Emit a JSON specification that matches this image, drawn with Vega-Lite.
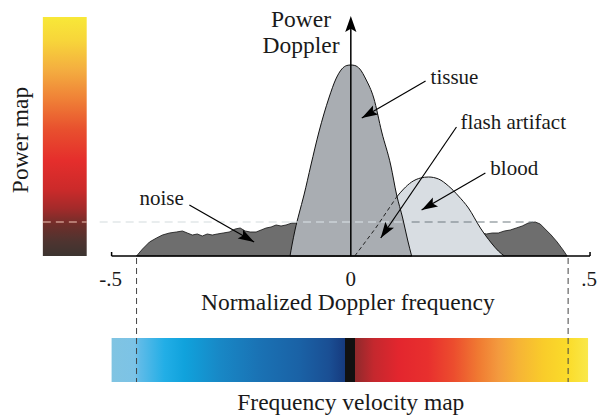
{
  "$schema": "https://vega.github.io/schema/vega-lite/v6.json",
  "width": 597,
  "height": 418,
  "autosize": {"type": "fit", "contains": "padding"},
  "padding": 0,
  "background": "white",
  "config": {"view": {"stroke": null}},
  "datasets": {
    "bars": [
      {"name": "power", "x": -0.7136, "x2": -0.612, "y": 1.2513, "y2": 0},
      {"name": "freq", "x": -0.5543, "x2": 0.5497, "y": -0.4293, "y2": -0.6597}
    ],
    "guides": [
      {"x": -0.4965, "y": -0.0105, "y2": -0.6597},
      {"x": 0.5035, "y": -0.0105, "y2": -0.6597}
    ],
    "hline": [
      {"seg": "bar", "x": -0.7136, "x2": -0.612, "y": 0.178},
      {"seg": "pale", "x": -0.582, "x2": -0.1409, "y": 0.178},
      {"seg": "tissue", "x": -0.1409, "x2": 0.1409, "y": 0.178},
      {"seg": "dark", "x": 0.1409, "x2": 0.4226, "y": 0.178}
    ],
    "noise": [
      {"x": -0.4965, "y": 0}, {"x": -0.4827, "y": 0.0366}, {"x": -0.4665, "y": 0.0733},
      {"x": -0.4503, "y": 0.0942}, {"x": -0.4365, "y": 0.1099}, {"x": -0.4203, "y": 0.1204},
      {"x": -0.4042, "y": 0.1257}, {"x": -0.3903, "y": 0.1309}, {"x": -0.3788, "y": 0.1204},
      {"x": -0.3672, "y": 0.1099}, {"x": -0.3557, "y": 0.1152}, {"x": -0.3441, "y": 0.1047},
      {"x": -0.3326, "y": 0.1152}, {"x": -0.321, "y": 0.1099}, {"x": -0.3095, "y": 0.1152},
      {"x": -0.2956, "y": 0.1204}, {"x": -0.2818, "y": 0.1257}, {"x": -0.2679, "y": 0.1414},
      {"x": -0.2564, "y": 0.1466}, {"x": -0.2448, "y": 0.1309}, {"x": -0.2333, "y": 0.1257},
      {"x": -0.2194, "y": 0.1257}, {"x": -0.2079, "y": 0.1361}, {"x": -0.1963, "y": 0.1466},
      {"x": -0.1848, "y": 0.1518}, {"x": -0.1732, "y": 0.1623}, {"x": -0.1617, "y": 0.1571},
      {"x": -0.1501, "y": 0.1623}, {"x": -0.1363, "y": 0.1728}, {"x": -0.1201, "y": 0.1728},
      {"x": 0.2956, "y": 0.1257}, {"x": 0.3141, "y": 0.1152}, {"x": 0.3279, "y": 0.1204},
      {"x": 0.3418, "y": 0.1204}, {"x": 0.3557, "y": 0.1309}, {"x": 0.3695, "y": 0.1361},
      {"x": 0.3834, "y": 0.1466}, {"x": 0.3972, "y": 0.1571}, {"x": 0.4111, "y": 0.1728},
      {"x": 0.4273, "y": 0.178}, {"x": 0.4388, "y": 0.1675}, {"x": 0.4503, "y": 0.1414},
      {"x": 0.4642, "y": 0.1099}, {"x": 0.4781, "y": 0.0733}, {"x": 0.4919, "y": 0.0314},
      {"x": 0.5012, "y": 0}
    ],
    "tissue": [
      {"x": -0.1409, "y": 0}, {"x": -0.1363, "y": 0.0576}, {"x": -0.1293, "y": 0.1361},
      {"x": -0.1201, "y": 0.2199}, {"x": -0.1085, "y": 0.3194}, {"x": -0.0924, "y": 0.4764},
      {"x": -0.0739, "y": 0.6492}, {"x": -0.0508, "y": 0.8272}, {"x": -0.0346, "y": 0.9267},
      {"x": -0.0208, "y": 0.9791}, {"x": -0.0092, "y": 0.9974}, {"x": 0, "y": 1.0},
      {"x": 0.0092, "y": 0.9974}, {"x": 0.0208, "y": 0.9791},
      {"x": 0.0346, "y": 0.9267}, {"x": 0.0531, "y": 0.8272}, {"x": 0.0716, "y": 0.6492},
      {"x": 0.0924, "y": 0.4764}, {"x": 0.1062, "y": 0.3194}, {"x": 0.1201, "y": 0.199},
      {"x": 0.1316, "y": 0.0838}, {"x": 0.1409, "y": 0}
    ],
    "blood": [
      {"part": "dashed", "x": 0.0092, "y": 0}, {"part": "dashed", "x": 0.0577, "y": 0.1466},
      {"part": "dashed", "x": 0.1062, "y": 0.3089},
      {"part": "solid", "x": 0.1062, "y": 0.3089}, {"part": "solid", "x": 0.1224, "y": 0.3508},
      {"part": "solid", "x": 0.1409, "y": 0.3874}, {"part": "solid", "x": 0.1617, "y": 0.4084},
      {"part": "solid", "x": 0.1801, "y": 0.4136}, {"part": "solid", "x": 0.2032, "y": 0.4031},
      {"part": "solid", "x": 0.2263, "y": 0.3665}, {"part": "solid", "x": 0.2494, "y": 0.3141},
      {"part": "solid", "x": 0.2725, "y": 0.2513}, {"part": "solid", "x": 0.3002, "y": 0.1466},
      {"part": "solid", "x": 0.3256, "y": 0.0681}, {"part": "solid", "x": 0.3418, "y": 0.0262},
      {"part": "solid", "x": 0.3557, "y": 0}
    ],
    "axes": [
      {"x": -0.5543, "y": 0, "x2": 0.5543, "y2": 0},
      {"x": 0, "y": 0, "x2": 0, "y2": 1.2251},
      {"x": -0.5543, "y": 0, "x2": -0.5543, "y2": 0.021},
      {"x": 0.5543, "y": 0, "x2": 0.5543, "y2": 0.021}
    ],
    "arrows": [
      {"name": "noise", "x": -0.3741, "y": 0.267, "x2": -0.224, "y2": 0.0733},
      {"name": "tissue", "x": 0.1732, "y": 0.9162, "x2": 0.0254, "y2": 0.7225},
      {"name": "flash", "x": 0.2448, "y": 0.6754, "x2": 0.0693, "y2": 0.0942},
      {"name": "blood", "x": 0.3118, "y": 0.4346, "x2": 0.164, "y2": 0.2408}
    ],
    "heads": [
      {"name": "noise", "x": -0.224, "y": 0.0733},
      {"name": "tissue", "x": 0.0254, "y": 0.7225},
      {"name": "flash", "x": 0.0693, "y": 0.0942},
      {"name": "blood", "x": 0.164, "y": 0.2408},
      {"name": "axis", "x": 0, "y": 1.2565}
    ],
    "labels": [
      {"text": "tissue", "x": 0.1848, "y": 0.9005},
      {"text": "flash artifact", "x": 0.254, "y": 0.6649},
      {"text": "blood", "x": 0.3233, "y": 0.4241},
      {"text": "noise", "x": -0.4896, "y": 0.267}
    ],
    "ticks": [
      {"text": "-.5", "x": -0.5566, "y": -0.157},
      {"text": "0", "x": 0, "y": -0.157},
      {"text": ".5", "x": 0.552, "y": -0.157}
    ],
    "titles": [
      {"text": "Power", "x": -0.1155, "y": 1.199},
      {"text": "Doppler", "x": -0.1155, "y": 1.0628},
      {"text": "Normalized Doppler frequency", "x": -0.0069, "y": -0.2827},
      {"text": "Frequency velocity map", "x": 0, "y": -0.8063}
    ],
    "rotated": [
      {"text": "Power map", "x": -0.7483, "y": 0.6073}
    ]
  },
  "encoding": {
    "x": {"field": "x", "type": "quantitative", "scale": {"domain": [-0.8129, 0.5658], "nice": false, "zero": false}, "axis": null},
    "y": {"field": "y", "type": "quantitative", "scale": {"domain": [-0.8482, 1.3403], "nice": false, "zero": false}, "axis": null}
  },
  "layer": [
    {
      "data": {"name": "bars"},
      "transform": [{"filter": "datum.name === 'power'"}],
      "mark": {"type": "rect", "fill": {"gradient": "linear", "x1": 0, "y1": 0, "x2": 0, "y2": 1, "stops": [
        {"offset": 0, "color": "#f8e838"}, {"offset": 0.1, "color": "#f7d53a"}, {"offset": 0.22, "color": "#f4ae40"},
        {"offset": 0.35, "color": "#ef7e36"}, {"offset": 0.47, "color": "#e8502e"}, {"offset": 0.6, "color": "#e52e2c"},
        {"offset": 0.72, "color": "#cc2a2a"}, {"offset": 0.8, "color": "#a42a2a"}, {"offset": 0.87, "color": "#6e2e2a"},
        {"offset": 0.94, "color": "#4e3430"}, {"offset": 1, "color": "#3c3430"}]}},
      "encoding": {"x2": {"field": "x2"}, "y2": {"field": "y2"}}
    },
    {
      "data": {"name": "bars"},
      "transform": [{"filter": "datum.name === 'freq'"}],
      "mark": {"type": "rect", "fill": {"gradient": "linear", "x1": 0, "y1": 0, "x2": 1, "y2": 0, "stops": [
        {"offset": 0, "color": "#80c4e2"}, {"offset": 0.048, "color": "#7cc3e6"}, {"offset": 0.059, "color": "#5fbbe8"},
        {"offset": 0.111, "color": "#22aee6"}, {"offset": 0.153, "color": "#10a2dc"}, {"offset": 0.226, "color": "#1888c6"},
        {"offset": 0.31, "color": "#1a72b4"}, {"offset": 0.393, "color": "#1a62a6"}, {"offset": 0.456, "color": "#1a4f94"},
        {"offset": 0.49, "color": "#163a7e"}, {"offset": 0.49, "color": "#111111"}, {"offset": 0.51, "color": "#111111"},
        {"offset": 0.51, "color": "#8e2a2c"}, {"offset": 0.55, "color": "#c4282e"}, {"offset": 0.603, "color": "#e3262e"},
        {"offset": 0.665, "color": "#e8302e"}, {"offset": 0.718, "color": "#ec4d2e"}, {"offset": 0.77, "color": "#f07a32"},
        {"offset": 0.812, "color": "#f39a3e"}, {"offset": 0.854, "color": "#f6b436"}, {"offset": 0.906, "color": "#f9cc2a"},
        {"offset": 0.958, "color": "#fbdc2a"}, {"offset": 1, "color": "#f9e84a"}]}},
      "encoding": {"x2": {"field": "x2"}, "y2": {"field": "y2"}}
    },
    {
      "data": {"name": "guides"},
      "mark": {"type": "rule", "color": "#444444", "strokeWidth": 1, "strokeDash": [6, 4]},
      "encoding": {"y2": {"field": "y2"}}
    },
    {
      "data": {"name": "noise"},
      "mark": {"type": "area", "color": "#6e6e6e", "stroke": "#111111", "strokeWidth": 0.8},
      "encoding": {"y2": {"datum": 0}}
    },
    {
      "data": {"name": "blood"},
      "mark": {"type": "area", "color": "#d8dde2", "interpolate": "monotone"},
      "encoding": {"y2": {"datum": 0}}
    },
    {
      "data": {"name": "tissue"},
      "mark": {"type": "area", "color": "#a9adb2", "stroke": "#111111", "strokeWidth": 1, "interpolate": "monotone"},
      "encoding": {"y2": {"datum": 0}}
    },
    {
      "data": {"name": "blood"},
      "transform": [{"filter": "datum.part === 'dashed'"}],
      "mark": {"type": "line", "color": "#222222", "strokeWidth": 1, "strokeDash": [4, 3]},
      "encoding": {}
    },
    {
      "data": {"name": "blood"},
      "transform": [{"filter": "datum.part === 'solid'"}],
      "mark": {"type": "line", "color": "#111111", "strokeWidth": 1, "interpolate": "monotone"},
      "encoding": {}
    },
    {
      "data": {"name": "hline"},
      "mark": {"type": "rule", "strokeWidth": 1.2, "strokeDash": [8, 5]},
      "encoding": {
        "x2": {"field": "x2"},
        "color": {"field": "seg", "type": "nominal", "legend": null,
          "scale": {"domain": ["bar", "pale", "tissue", "dark"], "range": ["#f4c8b8", "#d4dbde", "#dde5ea", "#6f7a80"]}}
      }
    },
    {
      "data": {"name": "axes"},
      "mark": {"type": "rule", "color": "#000000", "strokeWidth": 1.5},
      "encoding": {"x2": {"field": "x2"}, "y2": {"field": "y2"}}
    },
    {
      "data": {"name": "arrows"},
      "mark": {"type": "rule", "color": "#000000", "strokeWidth": 1.2},
      "encoding": {"x2": {"field": "x2"}, "y2": {"field": "y2"}}
    },
    {
      "data": {"name": "heads"},
      "transform": [{"filter": "datum.name === 'noise'"}],
      "mark": {"type": "point", "shape": "M0,0L-2,-0.65L-1.6,0L-2,0.65Z", "filled": true, "color": "#000000", "opacity": 1, "size": 256, "angle": 30, "strokeWidth": 0}
    },
    {
      "data": {"name": "heads"},
      "transform": [{"filter": "datum.name === 'tissue' || datum.name === 'blood'"}],
      "mark": {"type": "point", "shape": "M0,0L-2,-0.65L-1.6,0L-2,0.65Z", "filled": true, "color": "#000000", "opacity": 1, "size": 256, "angle": 150, "strokeWidth": 0}
    },
    {
      "data": {"name": "heads"},
      "transform": [{"filter": "datum.name === 'flash'"}],
      "mark": {"type": "point", "shape": "M0,0L-2,-0.65L-1.6,0L-2,0.65Z", "filled": true, "color": "#000000", "opacity": 1, "size": 256, "angle": 124, "strokeWidth": 0}
    },
    {
      "data": {"name": "heads"},
      "transform": [{"filter": "datum.name === 'axis'"}],
      "mark": {"type": "point", "shape": "M0,0L-2,-0.7L-1.6,0L-2,0.7Z", "filled": true, "color": "#000000", "opacity": 1, "size": 256, "angle": 270, "strokeWidth": 0}
    },
    {
      "data": {"name": "labels"},
      "mark": {"type": "text", "align": "left", "baseline": "alphabetic", "font": "Liberation Serif", "fontSize": 21, "color": "#1a1a1a"},
      "encoding": {"text": {"field": "text"}}
    },
    {
      "data": {"name": "ticks"},
      "mark": {"type": "text", "align": "center", "baseline": "alphabetic", "font": "Liberation Serif", "fontSize": 21, "color": "#1a1a1a"},
      "encoding": {"text": {"field": "text"}}
    },
    {
      "data": {"name": "titles"},
      "mark": {"type": "text", "align": "center", "baseline": "alphabetic", "font": "Liberation Serif", "fontSize": 23.5, "color": "#1a1a1a"},
      "encoding": {"text": {"field": "text"}}
    },
    {
      "data": {"name": "rotated"},
      "mark": {"type": "text", "align": "center", "baseline": "alphabetic", "angle": 270, "font": "Liberation Serif", "fontSize": 23.5, "color": "#1a1a1a"},
      "encoding": {"text": {"field": "text"}}
    }
  ]
}
